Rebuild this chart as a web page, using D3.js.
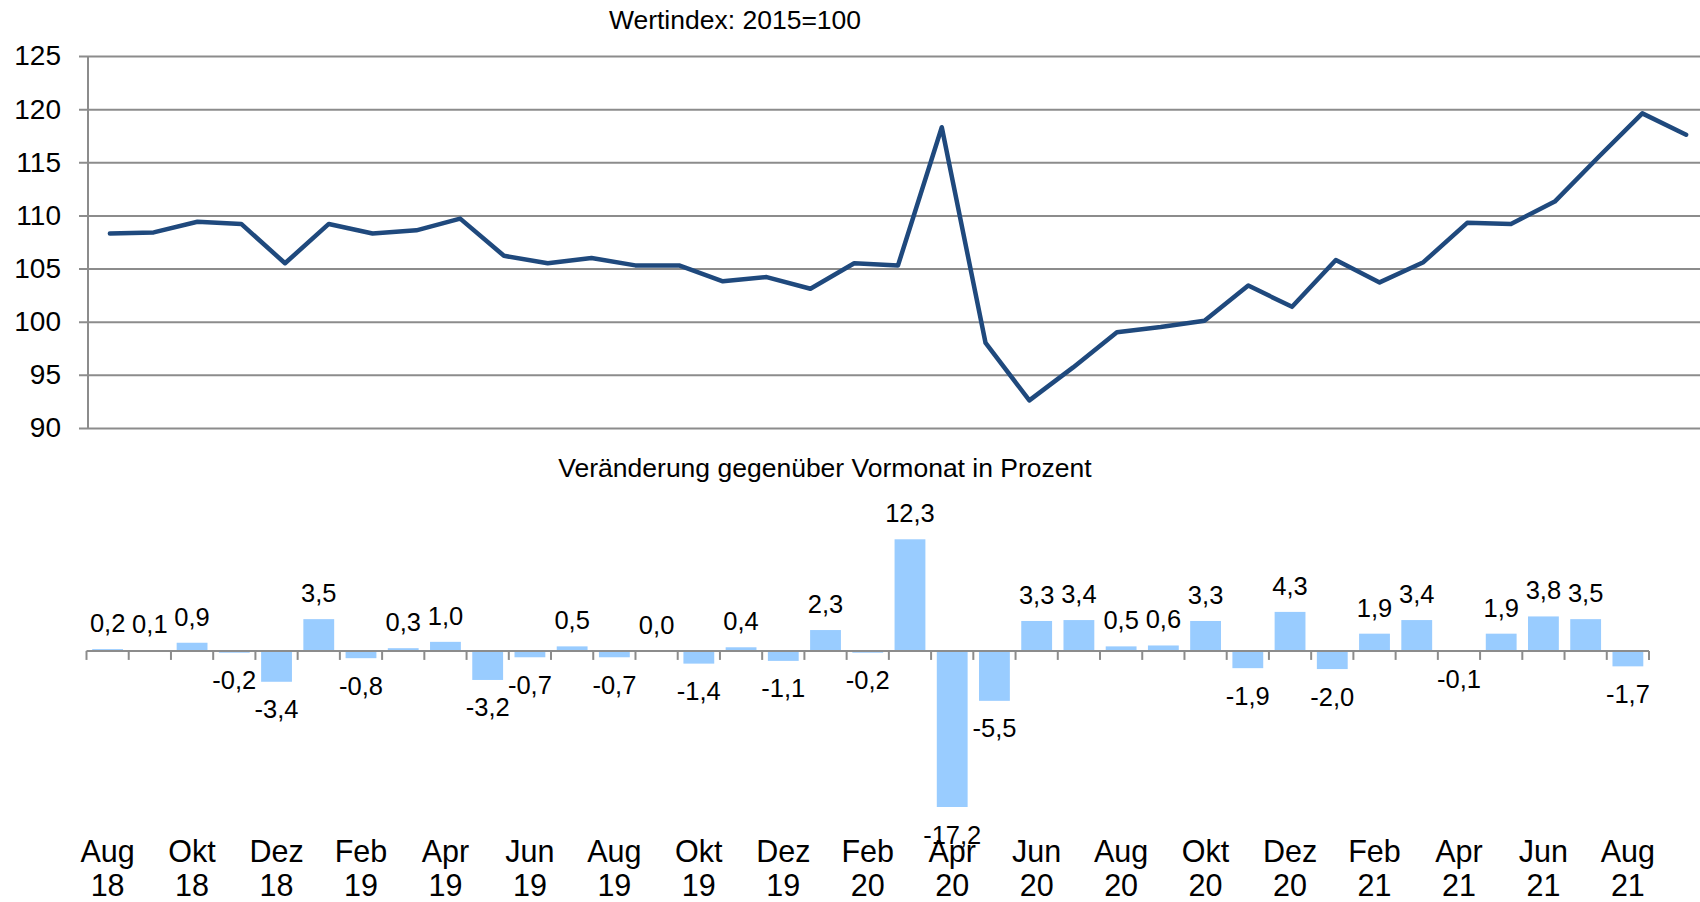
<!DOCTYPE html>
<html>
<head>
<meta charset="utf-8">
<script src="https://cdn.jsdelivr.net/npm/d3@7"></script>
<style>
  body { margin: 0; background: #fff; }
  svg { display: block; font-family: "Liberation Sans", Arial, sans-serif; }
</style>
</head>
<body>
<div id="chart"></div>
<script>
const MONTHS = ["Aug 18","Sep 18","Okt 18","Nov 18","Dez 18","Jan 19","Feb 19","Mrz 19","Apr 19","Mai 19","Jun 19","Jul 19",
  "Aug 19","Sep 19","Okt 19","Nov 19","Dez 19","Jan 20","Feb 20","Mrz 20","Apr 20","Mai 20","Jun 20","Jul 20",
  "Aug 20","Sep 20","Okt 20","Nov 20","Dez 20","Jan 21","Feb 21","Mrz 21","Apr 21","Mai 21","Jun 21","Jul 21","Aug 21"]
const INDEX = [108.3,108.4,109.4,109.2,105.5,109.2,108.3,108.6,109.7,106.2,105.5,106.0,
  105.3,105.3,103.8,104.2,103.1,105.5,105.3,118.3,98.0,92.6,95.7,99.0,
  99.5,100.1,103.4,101.4,105.8,103.7,105.6,109.3,109.2,111.3,115.5,119.6,117.6]
const CHANGE = [0.2,0.1,0.9,-0.2,-3.4,3.5,-0.8,0.3,1.0,-3.2,-0.7,0.5,
  -0.7,0.0,-1.4,0.4,-1.1,2.3,-0.2,12.3,-17.2,-5.5,3.3,3.4,
  0.5,0.6,3.3,-1.9,4.3,-2.0,1.9,3.4,-0.1,1.9,3.8,3.5,-1.7]
const Y_TICKS = [90,95,100,105,110,115,120,125]
const X_LABELS = MONTHS.filter((d, i) => i % 2 === 0)

const W = 1700, H = 902
const LINE_COLOR = "#1f497d"
const BAR_COLOR = "#99ccff"
const GRID = "#8c8c8c"

const de = d3.formatLocale({ decimal: ",", thousands: ".", grouping: [3], currency: ["", " €"], minus: "-" })
const fmt = de.format(".1f")

const svg = d3.select("#chart").append("svg")
    .attr("width", W)
    .attr("height", H)

// ---- oberes Diagramm: Wertindex
const xTop = d3.scaleBand().domain(MONTHS).range([88, 1708])
const yTop = d3.scaleLinear().domain([90, 125]).range([428, 56])

const gAxis = svg.append("g")
    .attr("transform", "translate(79,0)")
    .call(d3.axisLeft(yTop).tickValues(Y_TICKS).tickSize(-(W - 79)).tickPadding(18))
gAxis.select(".domain").remove()
gAxis.selectAll(".tick line").attr("stroke", GRID).attr("stroke-width", 2)
gAxis.selectAll(".tick text")
    .attr("fill", "#000")
    .style("font-size", "28px")
    .style("font-family", "'Liberation Sans', Arial, sans-serif")

svg.append("line")
    .attr("x1", 88).attr("x2", 88)
    .attr("y1", yTop(125)).attr("y2", yTop(90))
    .attr("stroke", GRID).attr("stroke-width", 2)

const line = d3.line()
    .x((d, i) => xTop(MONTHS[i]) + xTop.bandwidth() / 2)
    .y(d => yTop(d))

svg.append("path")
    .datum(INDEX)
    .attr("d", line)
    .attr("fill", "none")
    .attr("stroke", LINE_COLOR)
    .attr("stroke-width", 4.5)
    .attr("stroke-linejoin", "round")
    .attr("stroke-linecap", "round")

svg.append("text")
    .attr("x", 735).attr("y", 29)
    .attr("text-anchor", "middle")
    .style("font-size", "26.5px")
    .text("Wertindex: 2015=100")

// ---- unteres Diagramm: Veränderung
const xBot = d3.scaleBand().domain(MONTHS).range([86.5, 1649]).paddingInner(0.27).paddingOuter(0.135)
const yBot = d3.scaleLinear().domain([-17.2, 12.3]).range([807, 539.3])

svg.append("text")
    .attr("x", 825).attr("y", 476.5)
    .attr("text-anchor", "middle")
    .style("font-size", "26.5px")
    .text("Veränderung gegenüber Vormonat in Prozent")

svg.selectAll(".bar")
    .data(CHANGE)
    .enter()
    .append("rect")
    .attr("class", "bar")
    .attr("x", (d, i) => xBot(MONTHS[i]))
    .attr("width", xBot.bandwidth())
    .attr("y", d => yBot(Math.max(0, d)))
    .attr("height", d => Math.abs(yBot(d) - yBot(0)))
    .attr("fill", BAR_COLOR)

svg.selectAll(".val")
    .data(CHANGE)
    .enter()
    .append("text")
    .attr("class", "val")
    .attr("x", (d, i) => xBot(MONTHS[i]) + xBot.bandwidth() / 2)
    .attr("y", d => d >= 0 ? yBot(d) - 17 : yBot(d) + 36.5)
    .attr("text-anchor", "middle")
    .style("font-size", "25.5px")
    .text(d => fmt(d))

// Achse mit Teilstrichen zwischen den Monaten
const y0 = yBot(0)
const edges = d3.range(MONTHS.length + 1).map(i => 86.5 + i * xBot.step())
svg.append("line")
    .attr("x1", edges[0]).attr("x2", edges[edges.length - 1])
    .attr("y1", y0).attr("y2", y0)
    .attr("stroke", GRID).attr("stroke-width", 2)
svg.selectAll(".tk")
    .data(edges)
    .enter()
    .append("line")
    .attr("class", "tk")
    .attr("x1", d => d).attr("x2", d => d)
    .attr("y1", y0).attr("y2", y0 + 9)
    .attr("stroke", GRID).attr("stroke-width", 2)

const xl = svg.selectAll(".xl")
    .data(X_LABELS)
    .enter()
    .append("text")
    .attr("class", "xl")
    .attr("text-anchor", "middle")
    .style("font-size", "30.5px")
xl.append("tspan")
    .attr("x", d => xBot(d) + xBot.bandwidth() / 2)
    .attr("y", 861.5)
    .text(d => d.split(" ")[0])
xl.append("tspan")
    .attr("x", d => xBot(d) + xBot.bandwidth() / 2)
    .attr("y", 896)
    .text(d => d.split(" ")[1])
</script>
</body>
</html>
